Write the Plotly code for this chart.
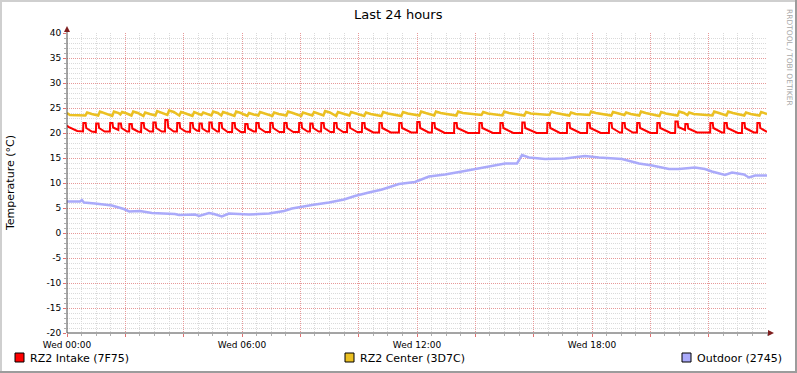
import plotly.graph_objects as go

# ---------------- data (hours since Wed 00:00, °C) ----------------
series_names = ["RZ2 Intake (7F75)", "RZ2 Center (3D7C)", "Outdoor (2745)"]

red_t = [0.00, 0.05, 0.35,
         0.55, 0.56, 0.64, 0.66, 0.85,
         0.99, 1.00, 1.08, 1.10, 1.29,
         1.47, 1.48, 1.56, 1.58, 1.75,
         1.76, 1.77, 1.85, 1.87, 2.06,
         2.13, 2.14, 2.22, 2.24, 2.43,
         2.54, 2.55, 2.63, 2.65, 2.84,
         2.95, 2.96, 3.04, 3.06, 3.25,
         3.36, 3.37, 3.45, 3.47, 3.66,
         3.77, 3.78, 3.86, 3.88, 4.07,
         4.22, 4.23, 4.31, 4.33, 4.45,
         4.53, 4.54, 4.62, 4.64, 4.80,
         4.87, 4.88, 4.96, 4.98, 5.15,
         5.21, 5.22, 5.30, 5.32, 5.51,
         5.66, 5.67, 5.75, 5.77, 5.96,
         6.10, 6.11, 6.19, 6.21, 6.40,
         6.48, 6.49, 6.57, 6.59, 6.80,
         6.96, 6.97, 7.05, 7.07, 7.28,
         7.44, 7.45, 7.53, 7.55, 7.76,
         7.95, 7.96, 8.04, 8.06, 8.25,
         8.33, 8.34, 8.42, 8.44, 8.63,
         8.71, 8.72, 8.80, 8.82, 9.03,
         9.15, 9.16, 9.24, 9.26, 9.47,
         9.60, 9.61, 9.69, 9.71, 9.95,
         10.11, 10.12, 10.20, 10.22, 10.50,
         10.70, 10.71, 10.79, 10.81, 11.10,
         11.38, 11.39, 11.47, 11.49, 11.80,
         12.00, 12.01, 12.09, 12.11, 12.40,
         12.51, 12.52, 12.60, 12.62, 12.95,
         13.27, 13.28, 13.36, 13.38, 13.75,
         14.13, 14.14, 14.22, 14.24, 14.60,
         14.85, 14.86, 14.94, 14.96, 15.30,
         15.60, 15.61, 15.69, 15.71, 16.10,
         16.46, 16.47, 16.55, 16.57, 16.90,
         17.14, 17.15, 17.23, 17.25, 17.60,
         17.83, 17.84, 17.92, 17.94, 18.30,
         18.58, 18.59, 18.67, 18.69, 18.95,
         19.03, 19.04, 19.12, 19.14, 19.40,
         19.54, 19.55, 19.63, 19.65, 20.00,
         20.23, 20.24, 20.32, 20.34, 20.70,
         20.85, 20.86, 20.94, 20.96, 21.18,
         21.19, 21.20, 21.28, 21.30, 21.60,
         22.05, 22.06, 22.14, 22.16, 22.45,
         22.53, 22.54, 22.62, 22.64, 23.00,
         23.14, 23.15, 23.23, 23.25, 23.55,
         23.66, 23.67, 23.75, 23.77, 24.00]
red_v = [21.5, 21.2, 20.4,
         20.3, 22.0, 22.0, 21.0, 20.3,
         20.2, 21.9, 21.9, 21.0, 20.3,
         20.3, 22.0, 22.0, 21.1, 20.6,
         20.6, 21.9, 21.9, 21.0, 20.3,
         20.3, 21.8, 21.8, 20.9, 20.3,
         20.2, 22.0, 22.0, 21.0, 20.3,
         20.3, 22.1, 22.1, 21.0, 20.3,
         20.3, 22.6, 22.6, 21.1, 20.3,
         20.3, 22.0, 22.0, 21.0, 20.3,
         20.2, 22.0, 22.0, 21.0, 20.5,
         20.4, 21.9, 21.9, 20.9, 20.3,
         20.3, 22.1, 22.1, 21.0, 20.3,
         20.3, 22.0, 22.0, 21.0, 20.2,
         20.2, 22.0, 22.0, 21.0, 20.2,
         20.2, 21.8, 21.8, 20.9, 20.3,
         20.3, 22.0, 22.0, 21.0, 20.2,
         20.2, 22.0, 22.0, 21.0, 20.2,
         20.2, 22.0, 22.0, 21.0, 20.2,
         20.2, 22.0, 22.0, 21.0, 20.3,
         20.3, 21.9, 21.9, 21.0, 20.3,
         20.3, 22.0, 22.0, 21.0, 20.2,
         20.2, 22.0, 22.0, 21.0, 20.2,
         20.2, 22.0, 22.0, 21.0, 20.2,
         20.2, 22.0, 22.0, 21.0, 20.1,
         20.1, 22.0, 22.0, 21.0, 20.1,
         20.1, 22.0, 22.0, 21.0, 20.1,
         20.1, 22.2, 22.2, 21.0, 20.1,
         20.1, 22.0, 22.0, 21.0, 20.0,
         20.0, 22.0, 22.0, 21.0, 20.0,
         20.0, 22.0, 22.0, 21.0, 20.0,
         20.0, 22.0, 22.0, 21.0, 20.0,
         20.0, 22.1, 22.1, 21.0, 20.0,
         20.0, 22.0, 22.0, 21.0, 20.0,
         20.0, 22.0, 22.0, 21.0, 20.0,
         20.0, 22.0, 22.0, 21.0, 20.0,
         20.0, 22.0, 22.0, 21.0, 20.1,
         20.1, 22.0, 22.0, 21.0, 20.1,
         20.1, 22.0, 22.0, 21.0, 20.0,
         20.0, 22.0, 22.0, 21.0, 20.0,
         20.0, 22.3, 22.3, 21.2, 20.6,
         20.6, 21.8, 21.8, 20.9, 20.1,
         20.1, 22.0, 22.0, 21.0, 20.1,
         20.1, 22.0, 22.0, 21.0, 20.0,
         20.0, 22.0, 22.0, 21.0, 20.1,
         20.1, 22.0, 22.0, 21.0, 20.2]

yel_t = [0.00, 0.10,
         0.63, 0.69, 0.85, 1.07, 1.13, 1.29, 1.55, 1.61, 1.77,
         1.83, 1.89, 2.05, 2.21, 2.27, 2.43, 2.62, 2.68, 2.84,
         3.03, 3.09, 3.25, 3.44, 3.50, 3.66, 3.85, 3.91, 4.07,
         4.30, 4.36, 4.52, 4.61, 4.67, 4.83, 4.95, 5.01, 5.17,
         5.29, 5.35, 5.51, 5.74, 5.80, 5.96, 6.18, 6.24, 6.40,
         6.56, 6.62, 6.78, 7.04, 7.10, 7.26, 7.52, 7.58, 7.74,
         8.03, 8.09, 8.25, 8.41, 8.47, 8.63, 8.79, 8.85, 9.01,
         9.23, 9.29, 9.45, 9.68, 9.74, 9.90, 10.19, 10.25, 10.41,
         10.78, 10.84, 11.00, 11.46, 11.52, 11.68, 12.08, 12.14, 12.30,
         12.59, 12.65, 12.81, 13.35, 13.41, 13.57, 14.21, 14.27, 14.43,
         14.93, 14.99, 15.15, 15.68, 15.74, 15.90, 16.54, 16.60, 16.76,
         17.22, 17.28, 17.44, 17.91, 17.97, 18.13, 18.66, 18.72, 18.88,
         19.11, 19.17, 19.33, 19.62, 19.68, 19.84, 20.31, 20.37, 20.53,
         20.93, 20.99, 21.15, 21.27, 21.33, 21.49, 22.13, 22.19, 22.35,
         22.61, 22.67, 22.83, 23.22, 23.28, 23.44, 23.74, 23.80, 23.96,
         24.00]
yel_v = [24.0, 23.6,
         23.5, 24.1, 23.8, 23.5, 24.3, 24.0, 23.4, 24.3, 24.0,
         23.7, 24.2, 23.9, 23.5, 24.3, 24.0, 23.4, 24.1, 23.8,
         23.5, 24.4, 24.1, 23.6, 24.5, 24.2, 23.5, 24.2, 23.9,
         23.4, 24.2, 23.9, 23.6, 24.1, 23.8, 23.5, 24.3, 24.0,
         23.5, 24.2, 23.9, 23.4, 24.3, 24.0, 23.4, 24.0, 23.7,
         23.5, 24.2, 23.9, 23.4, 24.1, 23.8, 23.5, 24.3, 24.0,
         23.4, 24.1, 23.8, 23.5, 24.2, 23.9, 23.5, 24.4, 24.1,
         23.4, 24.2, 23.9, 23.5, 24.2, 23.9, 23.4, 24.1, 23.8,
         23.4, 24.2, 23.9, 23.4, 24.2, 23.9, 23.5, 24.3, 24.0,
         23.5, 24.3, 24.0, 23.5, 24.3, 24.0, 23.6, 24.2, 23.9,
         23.5, 24.3, 24.0, 23.5, 24.2, 23.9, 23.6, 24.3, 24.0,
         23.5, 24.1, 23.8, 23.6, 24.3, 24.0, 23.5, 24.2, 23.9,
         23.6, 24.1, 23.8, 23.5, 24.3, 24.0, 23.4, 24.2, 23.9,
         23.5, 24.3, 24.0, 23.6, 24.1, 23.8, 23.5, 24.3, 24.0,
         23.5, 24.3, 24.0, 23.5, 24.1, 23.8, 23.5, 24.2, 23.9,
         23.8]

out_t = [0.00, 0.45, 0.51, 0.58, 0.96, 1.10, 1.54, 1.95, 2.13, 2.50,
         2.91, 3.70, 3.84, 4.39, 4.53, 4.87, 5.04, 5.31, 5.55, 6.24,
         6.93, 7.44, 7.71, 8.40, 8.98, 9.50, 9.87, 10.35, 10.80, 11.38,
         11.93, 12.41, 12.96, 13.54, 13.99, 14.57, 15.02, 15.43, 15.60, 15.84,
         16.39, 17.07, 17.76, 18.24, 19.03, 19.61, 20.06, 20.64, 20.98, 21.53,
         21.87, 22.11, 22.56, 22.80, 23.21, 23.38, 23.59, 24.00]
out_v = [6.3, 6.3, 6.6, 6.1, 5.9, 5.8, 5.5, 4.8, 4.3, 4.4,
         4.0, 3.8, 3.6, 3.7, 3.4, 4.0, 3.8, 3.3, 3.9, 3.7,
         3.9, 4.4, 4.9, 5.6, 6.1, 6.7, 7.4, 8.1, 8.7, 9.8,
         10.2, 11.3, 11.7, 12.3, 12.8, 13.3, 13.9, 13.9, 15.6, 15.1,
         14.8, 14.9, 15.4, 15.1, 14.8, 13.9, 13.5, 12.8, 12.8, 13.1,
         12.8, 12.3, 11.6, 12.1, 11.7, 11.1, 11.5, 11.5]

x_tick_vals = [0, 2, 4, 6, 8, 10, 12, 14, 16, 18, 20, 22]
x_tick_text = ["Wed 00:00", "", "", "Wed 06:00", "", "", "Wed 12:00", "", "",
               "Wed 18:00", "", ""]
y_tick_vals = [-20, -15, -10, -5, 0, 5, 10, 15, 20, 25, 30, 35, 40]
y_tick_text = ["-20", "-15", "-10", "-5", "0", "5", "10", "15", "20", "25", "30", "35", "40"]

# ---------------- styling ----------------
W, H = 797, 373
L, R, T, B = 67, 30, 33, 40
PW, PH = W - L - R, H - T - B
FONT = "DejaVu Sans"
colors = ["#FF0000", "#EBC022", "#AAAAFA"]
widths = [2, 2.5, 2.5]


def px(x):
    return (x - L) / PW


def py(y):
    return (H - B - y) / PH


fig = go.Figure()
for t, v, c, w, n in zip([red_t, yel_t, out_t], [red_v, yel_v, out_v], colors, widths, series_names):
    fig.add_trace(go.Scatter(x=t, y=v, mode="lines", name=n,
                             line=dict(color=c, width=w),
                             hoverinfo="skip", showlegend=False))

major_grid = "rgba(240,110,110,0.6)"
minor_grid = "#DADADA"

fig.update_layout(
    width=W, height=H,
    margin=dict(l=L, r=R, t=T, b=B, pad=0),
    paper_bgcolor="#FFFFFF", plot_bgcolor="#FFFFFF",
    font=dict(family=FONT, color="#000000"),
    xaxis=dict(range=[0, 24], tickmode="array", tickvals=x_tick_vals, ticktext=x_tick_text,
               showgrid=True, gridcolor=major_grid, griddash="1px,1px", gridwidth=1,
               ticks="outside", ticklen=3, tickcolor="#E07070", tickwidth=1,
               tickfont=dict(size=9, family=FONT, color="#000"),
               zeroline=False, showline=False, fixedrange=True,
               minor=dict(tickmode="linear", tick0=0, dtick=0.5, showgrid=True,
                          gridcolor=minor_grid, griddash="1px,1px", gridwidth=1,
                          ticks="outside", ticklen=2, tickcolor="#B0B0B0")),
    yaxis=dict(range=[-20, 40], tickmode="array", tickvals=y_tick_vals, ticktext=y_tick_text,
               showgrid=True, gridcolor=major_grid, griddash="1px,1px", gridwidth=1,
               ticks="outside", ticklen=3, tickcolor="#E07070", tickwidth=1,
               tickfont=dict(size=9, family=FONT, color="#000"),
               zeroline=False, showline=False, fixedrange=True,
               minor=dict(tickmode="linear", tick0=0, dtick=1, showgrid=True,
                          gridcolor=minor_grid, griddash="1px,1px", gridwidth=1,
                          ticks="outside", ticklen=2, tickcolor="#B0B0B0")),
)

shapes = []
# frame
shapes.append(dict(type="rect", xref="paper", yref="paper", x0=px(0), x1=px(W), y0=py(0), y1=py(2),
                   fillcolor="#CFCFCF", line=dict(width=0)))
shapes.append(dict(type="rect", xref="paper", yref="paper", x0=px(0), x1=px(2), y0=py(0), y1=py(H),
                   fillcolor="#CFCFCF", line=dict(width=0)))
shapes.append(dict(type="rect", xref="paper", yref="paper", x0=px(0), x1=px(W), y0=py(H - 2), y1=py(H),
                   fillcolor="#9C9C9C", line=dict(width=0)))
shapes.append(dict(type="rect", xref="paper", yref="paper", x0=px(W - 2), x1=px(W), y0=py(0), y1=py(H),
                   fillcolor="#9C9C9C", line=dict(width=0)))
# axes
shapes.append(dict(type="line", xref="paper", yref="paper", x0=px(67), x1=px(67), y0=py(333), y1=py(29),
                   line=dict(color="#4A4A4A", width=1)))
shapes.append(dict(type="line", xref="paper", yref="paper", x0=px(67), x1=px(771), y0=py(333), y1=py(333),
                   line=dict(color="#4A4A4A", width=1)))
# arrows
shapes.append(dict(type="path", xref="paper", yref="paper",
                   path=f"M {px(67)} {py(26)} L {px(64)} {py(32)} L {px(70)} {py(32)} Z",
                   fillcolor="#7F1F1F", line=dict(width=0)))
shapes.append(dict(type="path", xref="paper", yref="paper",
                   path=f"M {px(774)} {py(333)} L {px(768)} {py(330)} L {px(768)} {py(336)} Z",
                   fillcolor="#7F1F1F", line=dict(width=0)))

annotations = []
# title
annotations.append(dict(text="Last 24 hours", xref="paper", yref="paper", x=px(398.5), y=py(14),
                        xanchor="center", yanchor="middle", showarrow=False,
                        font=dict(size=13, family=FONT, color="#000")))
# y axis title
annotations.append(dict(text="Temperature (°C)", xref="paper", yref="paper", x=px(10), y=py(183),
                        xanchor="center", yanchor="middle", textangle=-90, showarrow=False,
                        font=dict(size=11, family=FONT, color="#000")))
# watermark
annotations.append(dict(text="RRDTOOL / TOBI OETIKER", xref="paper", yref="paper", x=px(789), y=py(57),
                        xanchor="center", yanchor="middle", textangle=90, showarrow=False,
                        font=dict(size=7.5, family=FONT, color="#A8A8A8")))
# legend
legend_x = [15, 345, 682]
for name, col, lx in zip(series_names, colors, legend_x):
    shapes.append(dict(type="rect", xref="paper", yref="paper", x0=px(lx), x1=px(lx + 9),
                       y0=py(353), y1=py(362), fillcolor=col, line=dict(color="#000", width=1)))
    annotations.append(dict(text=name, xref="paper", yref="paper", x=px(lx + 13), y=py(358),
                            xanchor="left", yanchor="middle", showarrow=False,
                            font=dict(size=11, family=FONT, color="#000")))

fig.update_layout(shapes=shapes, annotations=annotations)
fig.write_html("out.html", config={"displayModeBar": False},
               post_script="document.body.style.margin='0px';")
